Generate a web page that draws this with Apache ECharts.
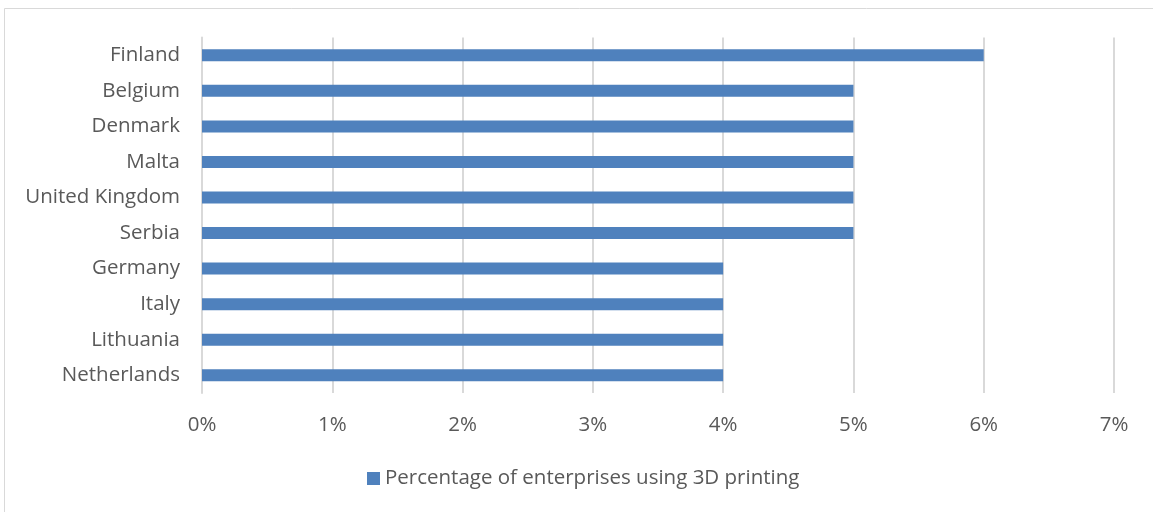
<!DOCTYPE html>
<html>
<head>
<meta charset="utf-8">
<script src="https://cdn.jsdelivr.net/npm/echarts@6/dist/echarts.min.js"></script>
<style>
  html, body { margin: 0; padding: 0; background: #fff; }
  #chart { width: 1153px; height: 512px; }
</style>
</head>
<body>
<div id="chart"></div>
<script>
// countries, top to bottom
const countries = ['Finland', 'Belgium', 'Denmark', 'Malta', 'United Kingdom', 'Serbia', 'Germany', 'Italy', 'Lithuania', 'Netherlands']
// percentage of enterprises using 3D printing
const shares = [6, 5, 5, 5, 5, 5, 4, 4, 4, 4]
const seriesName = 'Percentage of enterprises using 3D printing'

const font = '"Open Sans", "Liberation Sans", sans-serif'
const chart = echarts.init(document.getElementById('chart'))

chart.setOption({
  animation: false,
  textStyle: { fontFamily: font },
  graphic: [{
    type: 'rect',
    silent: true,
    z: -1,
    shape: { x: 4.5, y: 8.5, width: 1300, height: 700 },
    style: { fill: 'none', stroke: '#d9d9d9', lineWidth: 1 }
  }],
  grid: { left: 202, right: 39, top: 37.5, bottom: 119 },
  legend: {
    data: [seriesName],
    left: 362,
    top: 463,
    icon: 'rect',
    itemWidth: 13,
    itemHeight: 13,
    itemGap: 6,
    textStyle: { fontSize: 20.5, color: '#595959', fontFamily: font }
  },
  xAxis: {
    type: 'value',
    min: 0,
    max: 7,
    interval: 1,
    axisLabel: { formatter: '{value}%', fontSize: 20.5, color: '#595959', margin: 22 },
    axisLine: { show: false },
    axisTick: { show: false },
    splitLine: { lineStyle: { color: '#d9d9d9', width: 2 } }
  },
  yAxis: {
    type: 'category',
    data: countries,
    inverse: true,
    axisLabel: { fontSize: 20.5, color: '#595959', margin: 22 },
    axisLine: { lineStyle: { color: '#d9d9d9', width: 2 } },
    axisTick: { show: false }
  },
  series: [{
    name: seriesName,
    type: 'bar',
    data: shares,
    barWidth: 12,
    itemStyle: { color: '#4f81bd' }
  }]
})
</script>
</body>
</html>
